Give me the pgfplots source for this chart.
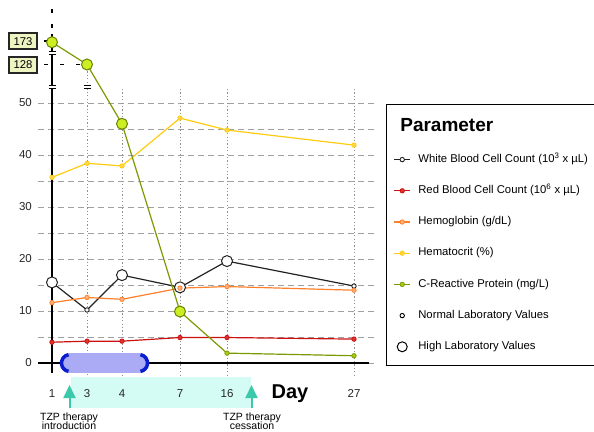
\documentclass[border=0pt]{standalone}
\usepackage{fontspec}
\setmainfont{Liberation Sans}
\usepackage{pgfplots}
\pgfplotsset{compat=1.18}
\usetikzlibrary{arrows.meta}
\definecolor{cwbc}{HTML}{222222}
\definecolor{crbc}{HTML}{CC1111}
\definecolor{crbcf}{HTML}{DD3333}
\definecolor{chgb}{HTML}{FF7F2A}
\definecolor{chgbf}{HTML}{FFB27F}
\definecolor{chct}{HTML}{FFCC11}
\definecolor{chctf}{HTML}{FFD84A}
\definecolor{ccrp}{HTML}{7A9A01}
\definecolor{ccrpf}{HTML}{CCEE22}
\definecolor{ccrps}{HTML}{AACC11}
\definecolor{cgrid}{HTML}{A0A0A0}
\definecolor{cbox}{HTML}{EFF5C2}
\definecolor{cpill}{HTML}{AAAAF5}
\definecolor{cbrk}{HTML}{0A1ED0}
\definecolor{cband}{HTML}{D5FBF5}
\definecolor{carrow}{HTML}{3CC8AA}
\newcommand\fs[1]{\fontsize{#1}{#1}\selectfont}
\newcommand\brk[2]{%
  \fill[white] (axis cs:#1,#2) ++(-3.5pt,-0.7pt) rectangle ++(7pt,1.4pt);
  \draw[line width=1.1pt] (axis cs:#1,#2) ++(-3.5pt,1.3pt) -- ++(7pt,0pt) ++(0pt,-2.6pt) -- ++(-7pt,0pt);}

\pgfplotstableread{
x y
0 15.5
35 10.2
70 16.9
128 14.55
175 19.6
302 14.8
}\wbc
\pgfplotstableread{
x y
0 15.5
70 16.9
128 14.55
175 19.6
}\wbchigh
\pgfplotstableread{
x y
0 4.0
35 4.2
70 4.2
128 4.9
175 4.9
302 4.6
}\rbc
\pgfplotstableread{
x y
0 11.6
35 12.6
70 12.25
128 14.4
175 14.7
302 14.0
}\hgb
\pgfplotstableread{
x y
0 35.7
35 38.4
70 37.9
128 47.1
175 44.8
302 41.9
}\hct
\pgfplotstableread{
x y
0 173
35 128
70 46
128 9.9
175 1.9
302 1.4
}\crp
\pgfplotstableread{
x y
0 173
35 128
70 46
128 9.9
}\crphigh

\begin{document}
\begin{tikzpicture}
\begin{axis}[
  set layers,
  x=1pt, y=5.2pt,
  xmin=-14, xmax=323, ymin=-2.3, ymax=52.7,
  clip=false,
  axis line style={draw=none},
  major tick length=0pt,
  xtick={0,35,70,128,175,302}, xticklabels={1,3,4,7,16,27},
  ytick={0,5,...,50}, yticklabels={0,,10,,20,,30,,40,,50},
  ymajorgrids,
  grid style={cgrid, dash pattern=on 6pt off 4pt, line width=0.9pt},
  tick label style={font=\fs{11.5}, inner sep=0pt, text=black!85},
  yticklabel style={xshift=-6pt},
  xticklabel style={yshift=-14pt},
  legend cell align=left,
  legend style={at={(1.0326,0.9473)}, anchor=north west,
    draw=black, line width=1.3pt,
    inner xsep=7pt, inner ysep=13pt,
    row sep=20.4pt,
    font=\fs{11.3},
    nodes={inner sep=0pt, text height=8.2pt, text depth=2.6pt},
    /tikz/every odd column/.append style={column sep=7.5pt}},
  legend image code/.code={\draw[mark repeat=2,mark phase=2]
    plot coordinates {(0pt,0pt) (8pt,0pt) (16pt,0pt)};},
  y filter/.expression={y>50 ? 50+(y-50)*0.095 : y},
]
% band behind the tick labels
\addplot[forget plot, on layer=axis background, draw=none, fill=cband]
  coordinates {(18.5,-2.69) (199,-2.69) (199,-8.65) (18.5,-8.65)} -- cycle;
% vertical dotted grid
\draw[cgrid!90!black, line width=0.8pt, dash pattern=on 1.2pt off 2.2pt]
  (axis cs:35,57.4) -- (axis cs:35,-2.3)
  (axis cs:70,52.7) -- (axis cs:70,-2.3)
  (axis cs:128,52.7) -- (axis cs:128,-2.3)
  (axis cs:175,52.7) -- (axis cs:175,-2.3)
  (axis cs:302,52.7) -- (axis cs:302,-2.3);
% axes
\draw[line width=2pt] (axis cs:-14,0) -- (axis cs:317,0);
\draw[line width=2pt] (axis cs:0,-1.9) -- (axis cs:0,63.3);
\draw[line width=2pt] (axis cs:0,64.4) -- (axis cs:0,65.2);
\draw[line width=2pt] (axis cs:0,67.3) -- (axis cs:0,68.1);
\brk{0}{59.6}
\brk{0}{53.1}
\brk{35}{53.1}
% leaders and value boxes
\draw[line width=1.3pt, dash pattern=on 4pt off 12pt] (axis cs:-8,57.45) -- (axis cs:33,57.45);
\draw[line width=1.3pt] (axis cs:-8,61.9) -- (axis cs:-4,61.9);
\node[draw=black!85, line width=1.3pt, fill=cbox, minimum width=28pt, minimum height=16pt, inner sep=0pt, font=\fs{11.3}] at (axis cs:-29,61.9) {173};
\node[draw=black!85, line width=1.3pt, fill=cbox, minimum width=28pt, minimum height=16pt, inner sep=0pt, font=\fs{11.3}] at (axis cs:-29,57.3) {128};

% legend title
\addlegendimage{empty legend}
\addlegendentry[font=\bfseries\fs{19}, text height=13.6pt, text depth=2.5pt]{\hspace*{-18pt}Parameter}
% series
\addplot[cwbc, line width=1.2pt, mark=*, mark size=2.2pt, mark options={fill=white, draw=cwbc, line width=0.9pt}] table {\wbc};
\addlegendentry{White Blood Cell Count (10\textsuperscript{3} x µL)}
\addplot[forget plot, only marks, mark=*, mark size=5.5pt, mark options={fill=white, draw=cwbc, line width=1pt}] table {\wbchigh};
\addplot[crbc, line width=1.2pt, mark=*, mark size=2.2pt, mark options={fill=crbcf, draw=crbc, line width=0.8pt}] table {\rbc};
\addlegendentry{Red Blood Cell Count (10\textsuperscript{6} x µL)}
\addplot[chgb, line width=1.2pt, mark=*, mark size=2.2pt, mark options={fill=chgbf, draw=chgb, line width=0.8pt}] table {\hgb};
\addlegendentry{Hemoglobin (g/dL)}
\addplot[chct, line width=1.2pt, mark=*, mark size=2.2pt, mark options={fill=chctf, draw=chct, line width=0.8pt}] table {\hct};
\addlegendentry{Hematocrit (\%)}
\addplot[ccrp, line width=1.2pt, mark=*, mark size=2.2pt, mark options={fill=ccrps, draw=ccrp, line width=0.8pt}] table {\crp};
\addlegendentry{C-Reactive Protein (mg/L)}
\addplot[forget plot, only marks, mark=*, mark size=5.5pt, mark options={fill=ccrpf, draw=ccrp!85!black, line width=1pt}] table {\crphigh};
\addlegendimage{only marks, mark=o, mark size=2.2pt, black, line width=0.9pt}
\addlegendentry{Normal Laboratory Values}
\addlegendimage{only marks, mark=o, mark size=5pt, black, line width=1pt}
\addlegendentry{High Laboratory Values}

% therapy pill
\fill[cpill, rounded corners=9.5pt] (axis cs:8,1.92) rectangle (axis cs:97,-1.92);
\draw[cbrk, line width=3.5pt] (axis cs:18,0) ++(100:8.5pt) arc[start angle=100, end angle=260, radius=8.5pt];
\draw[cbrk, line width=3.5pt] (axis cs:87,0) ++(80:8.5pt) arc[start angle=80, end angle=-80, radius=8.5pt];
% arrows
\draw[carrow, line width=2pt, -{Triangle[width=12pt,length=13pt]}] (axis cs:17.5,-8.65) -- (axis cs:17.5,-4.23);
\draw[carrow, line width=2pt, -{Triangle[width=12pt,length=13pt]}] (axis cs:199.5,-8.65) -- (axis cs:199.5,-4.23);
% texts
\node[anchor=base, font=\bfseries\fs{20}] at (axis cs:238,-6.73) {Day};
\node[anchor=base, font=\fs{10.5}] at (axis cs:17,-10.96) {TZP therapy};
\node[anchor=base, font=\fs{10.5}] at (axis cs:17,-12.79) {introduction};
\node[anchor=base, font=\fs{10.5}] at (axis cs:200,-10.96) {TZP therapy};
\node[anchor=base, font=\fs{10.5}] at (axis cs:200,-12.79) {cessation};
\coordinate (TL) at (axis cs:-52,69.81);
\coordinate (BR) at (axis cs:542,-13.08);
\end{axis}
\pgfresetboundingbox
\path[use as bounding box] (TL) rectangle (BR);
\end{tikzpicture}
\end{document}
